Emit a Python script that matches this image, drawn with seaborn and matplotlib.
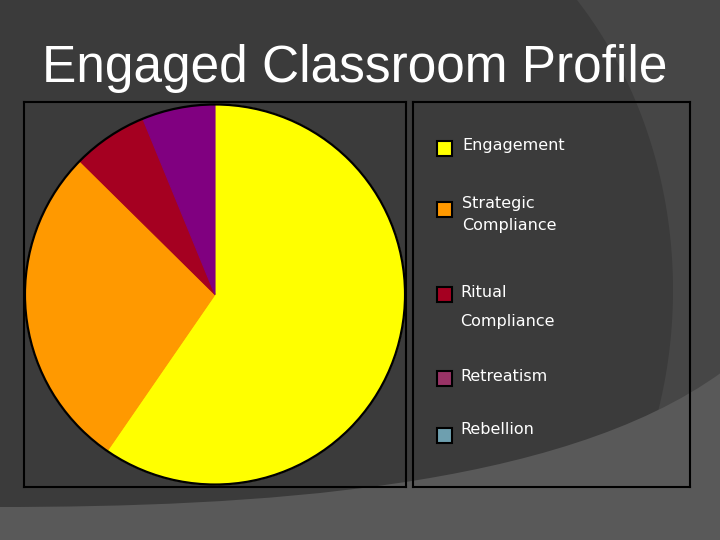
import numpy as np
import matplotlib
matplotlib.use("Agg")
import matplotlib.pyplot as plt
from matplotlib.patches import Rectangle, Circle, PathPatch
from matplotlib.path import Path
import seaborn as sns

# ---- data ----
categories = ["Engagement", "Strategic\nCompliance", "Ritual\nCompliance", "Retreatism", "Rebellion"]
shares = [59.6, 27.8, 6.4, 6.2, 0.0]
slice_colors = ["#FFFF00", "#FF9900", "#A50021", "#800080", "#6E9FAF"]
legend_colors = ["#FFFF00", "#FF9900", "#A50021", "#993366", "#6E9FAF"]
title = "Engaged Classroom Profile"

sns.set_theme(style="white")
plt.rcParams["font.family"] = ["DejaVu Sans"]

W, H = 720, 540
fig = plt.figure(figsize=(7.2, 5.4), dpi=100)
fig.patch.set_facecolor("#3b3b3b")


def px_rect(x0, y0, x1, y1):
    return [x0 / W, 1 - y1 / H, (x1 - x0) / W, (y1 - y0) / H]


# ---- background decoration ----
bg = fig.add_axes([0, 0, 1, 1], zorder=0)
bg.set_xlim(0, W)
bg.set_ylim(H, 0)
bg.axis("off")
ys = np.linspace(-5, H + 5, 400)
cx, cy, a, b = 300, 290, 373, 433
xa = cx + a * np.sqrt(np.clip(1 - ((ys - cy) / b) ** 2, 0, None))
bg.fill_betweenx(ys, xa, W + 5, color="#464646", lw=0)
verts = [(-2, 507), (250, 507), (560, 490), (722, 372), (722, 542), (-2, 542), (-2, 507)]
codes = [Path.MOVETO, Path.CURVE4, Path.CURVE4, Path.CURVE4, Path.LINETO, Path.LINETO, Path.CLOSEPOLY]
bg.add_patch(PathPatch(Path(verts, codes), fc="#595959", ec="none"))

# ---- title ----
fig.text(355 / W, 1 - 82 / H, title, fontsize=37, family=["Liberation Sans", "DejaVu Sans"],
         color="white", ha="center", va="baseline")

# ---- pie ----
ax = fig.add_axes(px_rect(24, 102, 406, 487), zorder=1)
wedges, _ = ax.pie(shares, colors=slice_colors, startangle=90, counterclock=False, radius=1,
                   wedgeprops=dict(linewidth=0.8))
for w, v in zip(wedges, shares):
    if v > 0:
        w.set_edgecolor(w.get_facecolor())
    else:
        w.set_visible(False)
ax.add_patch(Circle((0, 0), 1, fill=False, ec="black", lw=1.6))
ax.set_aspect("auto")
ax.set_xlim(-1.005, 1.005)
ax.set_ylim(-1.013, 1.013)
ax.set_frame_on(True)
ax.patch.set_alpha(0)
ax.set_xticks([])
ax.set_yticks([])
for sp in ax.spines.values():
    sp.set_visible(True)
    sp.set_color("black")
    sp.set_linewidth(1.5)

# ---- legend box ----
axl = fig.add_axes(px_rect(413, 102, 690, 487), zorder=1)
axl.set_xlim(413, 690)
axl.set_ylim(487, 102)
axl.patch.set_alpha(0)
axl.set_xticks([])
axl.set_yticks([])
for sp in axl.spines.values():
    sp.set_visible(True)
    sp.set_color("black")
    sp.set_linewidth(1.5)

sq_top = [141, 202, 287, 371, 428]
text_x = [462, 462, 460, 460, 460]
baseline = [150, 208, 297, 381, 434]
line_gap = [0, 22, 29, 0, 0]
for i, (lab, col) in enumerate(zip(categories, legend_colors)):
    axl.add_patch(Rectangle((437, sq_top[i]), 15, 15, fc=col, ec="black", lw=1.5))
    for j, line in enumerate(lab.split("\n")):
        axl.text(text_x[i], baseline[i] + j * line_gap[i], line, color="white",
                 fontsize=11.5, ha="left", va="baseline")

fig.savefig("out.png", dpi=100, facecolor=fig.get_facecolor())
